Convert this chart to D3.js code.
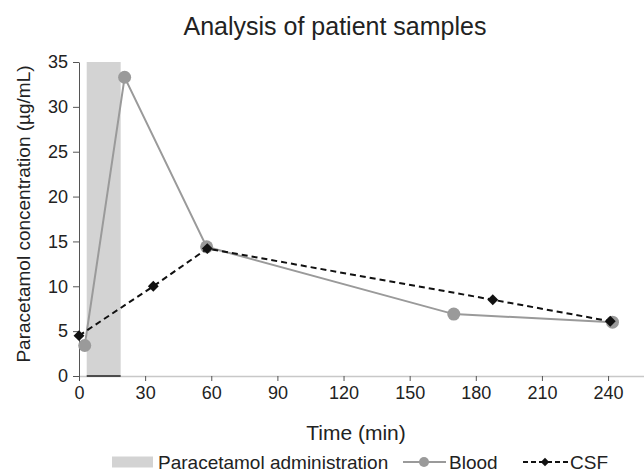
<!DOCTYPE html>
<html>
<head>
<meta charset="utf-8">
<script src="https://cdn.jsdelivr.net/npm/d3@7"></script>
<style>
  body { margin: 0; background: #fff; }
  text { font-family: "Liberation Sans", Arial, sans-serif; fill: #222; }
</style>
</head>
<body>
<div class="d3-container"></div>
<script>
const w = 644
const h = 473

// data
const bloodTime = [2.6, 20.7, 57.9, 170, 242]
const bloodConc = [3.4, 33.3, 14.4, 6.9, 6.0]
const csfTime = [0, 33.7, 58.2, 187.7, 241]
const csfConc = [4.5, 10, 14.2, 8.5, 6.1]
const adminWindow = [3.5, 18.9]
const xTicks = [0, 30, 60, 90, 120, 150, 180, 210, 240]
const yTicks = [0, 5, 10, 15, 20, 25, 30, 35]

const x = d3.scaleLinear().domain([0, 256.3]).range([79, 644])
const y = d3.scaleLinear().domain([0, 35]).range([376, 62])

const svg = d3.select('.d3-container')
    .append('svg')
    .attr('width', w)
    .attr('height', h)

// administration band
svg.append('rect')
    .attr('x', x(adminWindow[0]))
    .attr('y', y(35))
    .attr('width', x(adminWindow[1]) - x(adminWindow[0]))
    .attr('height', y(0) - y(35))
    .attr('fill', '#d3d3d3')

// x axis
const xAxis = svg.append('g')
    .attr('transform', `translate(0, ${y(0)})`)
    .call(d3.axisBottom(x).tickValues(xTicks).tickSize(5).tickSizeOuter(0).tickPadding(5))
xAxis.select('.domain').attr('stroke', '#c8c8c8').attr('stroke-width', 1.5)
xAxis.selectAll('.tick line').attr('stroke', '#555')
xAxis.selectAll('text').style('font-size', '18px').style('font-family', '"Liberation Sans", Arial, sans-serif').attr('fill', '#222')
svg.append('line')
    .attr('x1', x(adminWindow[0])).attr('x2', x(adminWindow[1]))
    .attr('y1', y(0)).attr('y2', y(0))
    .attr('stroke', '#222').attr('stroke-width', 1.5)

// y axis
const yAxis = svg.append('g')
    .attr('transform', `translate(${x(0)}, 0)`)
    .call(d3.axisLeft(y).tickValues(yTicks).tickSize(6).tickSizeOuter(0).tickPadding(5))
yAxis.select('.domain').attr('stroke', '#555')
yAxis.selectAll('.tick line').attr('stroke', '#555')
yAxis.selectAll('text').style('font-size', '18px').style('font-family', '"Liberation Sans", Arial, sans-serif').attr('fill', '#222')

// blood line
const blood = bloodTime.map((t, i) => [t, bloodConc[i]])
const csf = csfTime.map((t, i) => [t, csfConc[i]])
const line = d3.line().x(d => x(d[0])).y(d => y(d[1]))

svg.append('path')
    .datum(blood)
    .attr('d', line)
    .attr('fill', 'none')
    .attr('stroke', '#9a9a9a')
    .attr('stroke-width', 2)

svg.append('g')
    .selectAll('circle')
    .data(blood)
    .enter()
    .append('circle')
    .attr('cx', d => x(d[0]))
    .attr('cy', d => y(d[1]))
    .attr('r', 6.5)
    .attr('fill', '#9a9a9a')

// csf line
svg.append('path')
    .datum(csf)
    .attr('d', line)
    .attr('fill', 'none')
    .attr('stroke', '#111')
    .attr('stroke-width', 2)
    .attr('stroke-dasharray', '6,4')

const diamond = d3.symbol().type(d3.symbolDiamond2).size(75)
svg.append('g')
    .selectAll('path')
    .data(csf)
    .enter()
    .append('path')
    .attr('d', diamond)
    .attr('transform', d => `translate(${x(d[0])}, ${y(d[1])})`)
    .attr('fill', '#111')

// titles
svg.append('text')
    .attr('x', 335)
    .attr('y', 35)
    .attr('text-anchor', 'middle')
    .style('font-size', '25px')
    .text('Analysis of patient samples')

svg.append('text')
    .attr('x', 356)
    .attr('y', 440)
    .attr('text-anchor', 'middle')
    .style('font-size', '21px')
    .text('Time (min)')

svg.append('text')
    .attr('transform', 'translate(30, 214) rotate(-90)')
    .attr('text-anchor', 'middle')
    .style('font-size', '19px')
    .text('Paracetamol concentration (µg/mL)')

// legend
const legend = svg.append('g').attr('transform', 'translate(0, 462)')
legend.append('rect')
    .attr('x', 112).attr('y', -5.5)
    .attr('width', 41).attr('height', 11)
    .attr('fill', '#d3d3d3')
legend.append('text')
    .attr('x', 158).attr('y', 6.5)
    .style('font-size', '19px')
    .text('Paracetamol administration')

legend.append('line')
    .attr('x1', 403).attr('x2', 446)
    .attr('stroke', '#9a9a9a').attr('stroke-width', 2)
legend.append('circle')
    .attr('cx', 424).attr('cy', 0).attr('r', 5)
    .attr('fill', '#9a9a9a')
legend.append('text')
    .attr('x', 449).attr('y', 6.5)
    .style('font-size', '19px')
    .text('Blood')

legend.append('line')
    .attr('x1', 523).attr('x2', 568)
    .attr('stroke', '#111').attr('stroke-width', 2)
    .attr('stroke-dasharray', '5,3')
legend.append('path')
    .attr('d', d3.symbol().type(d3.symbolDiamond2).size(45))
    .attr('transform', 'translate(545, 0)')
    .attr('fill', '#111')
legend.append('text')
    .attr('x', 570).attr('y', 6.5)
    .style('font-size', '19px')
    .text('CSF')
</script>
</body>
</html>
